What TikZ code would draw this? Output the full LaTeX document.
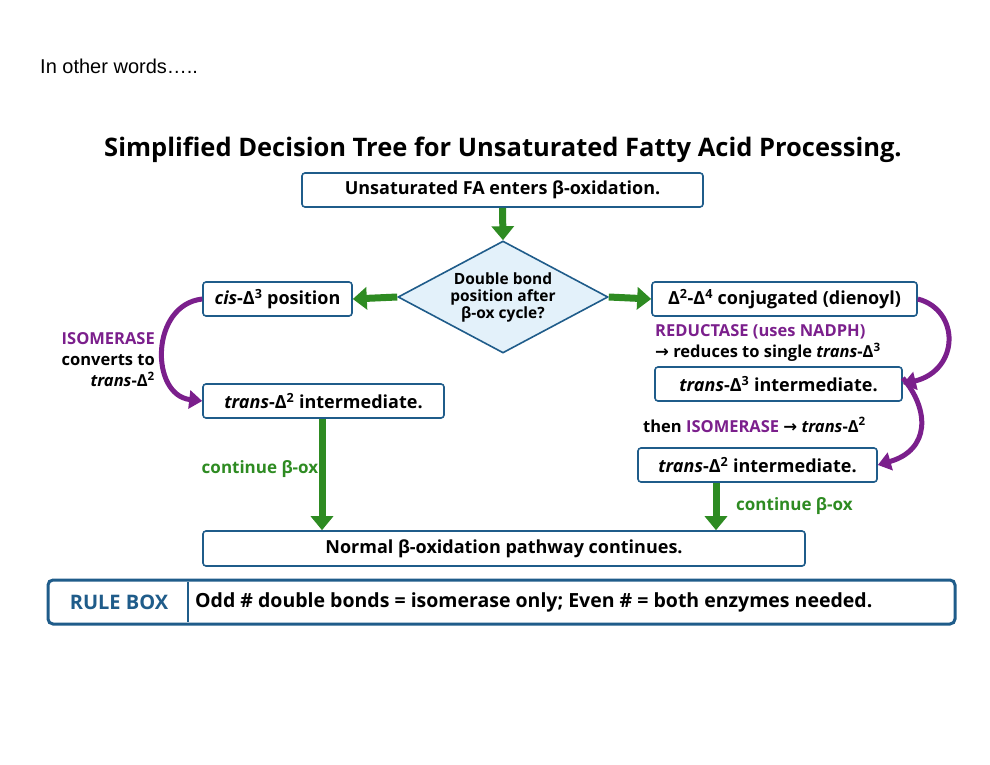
\documentclass[tikz,border=0pt]{standalone}
\usepackage{fontspec}
\setmainfont{Open Sans}
\newfontfamily\arialfont{Liberation Sans}
\newfontfamily\symfont{DejaVu Sans}
\usetikzlibrary{arrows.meta,shapes.geometric,positioning}
\definecolor{boxblue}{HTML}{1F5C8A}
\definecolor{arrgreen}{HTML}{2E8B22}
\definecolor{enzpurple}{HTML}{7B1F8C}
\definecolor{diafill}{HTML}{E3F1FA}
\tikzset{
  stepbox/.style={draw=boxblue, line width=1.6pt, rounded corners=3pt, fill=white,
    inner sep=0pt, font=\fontsize{18}{21}\selectfont\bfseries},
  greenarr/.style={draw=arrgreen, line width=7pt, -{Triangle[length=14pt,width=22pt]}},
  purparr/.style={draw=enzpurple, line width=5pt, -{Triangle[length=13pt,width=18pt]}},
}
\newcommand{\trans}{\textit{trans}}
\newcommand{\D}[1]{Δ\textsuperscript{#1}}
\newcommand{\ra}{{\symfont\bfseries →}}
\begin{document}
\begin{tikzpicture}[x=1pt,y=-1pt]
  \useasboundingbox (0,0) rectangle (990,765);
  %%%%% TEXT %%%%%
  \node[anchor=west, inner sep=0pt, font=\arialfont\fontsize{20}{24}\selectfont] (intro) at (40,66) {In other words…..};
  \node[font=\fontsize{25.5}{30}\selectfont\bfseries] (title) at (503,150) {Simplified Decision Tree for Unsaturated Fatty Acid Processing.};

  %%%%% BOXES %%%%%
  \node[stepbox, minimum width=401pt, minimum height=34pt] (enter) at (502.5,190) {Unsaturated FA enters β-oxidation.};
  \node[draw=boxblue, line width=1.6pt, fill=diafill, diamond, aspect=1.9, inner sep=0pt,
    minimum width=210pt, minimum height=112pt, align=center,
    font=\fontsize{15.5}{17}\selectfont\bfseries] (dec) at (503,297) {Double bond\\position after\\β-ox cycle?};
  \node[stepbox, minimum width=149pt, minimum height=34pt] (cis) at (277.5,299) {\textit{cis}-\D{3} position};
  \node[stepbox, minimum width=265pt, minimum height=34pt] (dien) at (784.5,299) {\D{2}-\D{4} conjugated (dienoyl)};
  \node[stepbox, minimum width=241pt, minimum height=34pt] (transL) at (323.5,401) {\trans-\D{2} intermediate.};
  \node[stepbox, minimum width=247pt, minimum height=34pt] (transT) at (778.5,384) {\trans-\D{3} intermediate.};
  \node[stepbox, minimum width=239pt, minimum height=34pt] (transR) at (757.5,465) {\trans-\D{2} intermediate.};
  \node[stepbox, minimum width=602pt, minimum height=35pt] (normal) at (504,548.5) {Normal β-oxidation pathway continues.};

  %%%%% ARROWS %%%%%
  \draw[greenarr] (enter.south) -- (dec.north);
  \draw[greenarr] (dec.west) -- (cis.east);
  \draw[greenarr] (dec.east) -- (dien.west);
  \draw[greenarr] (transL.south -| 322,0) -- (normal.north -| 322,0);
  \draw[greenarr] (transR.south -| 716,0) -- (normal.north -| 716,0);
  \draw[purparr] (cis.west) .. controls (150,305) and (150,395) .. (transL.west);
  \draw[purparr] (dien.east) .. controls (960,310) and (960,370) .. (transT.east);
  \draw[purparr] ([yshift=6pt]transT.east) .. controls (930,410) and (930,450) .. (transR.east);

  %%%%% LABELS %%%%%
  \node[align=right, anchor=east, inner sep=0pt, font=\fontsize{16.5}{21}\selectfont\bfseries] (isoL) at (155,360)
    {\textcolor{enzpurple}{ISOMERASE}\\converts to\\\trans-\D{2}};
  \node[anchor=west, inner sep=0pt, font=\fontsize{16.5}{19}\selectfont\bfseries, text=enzpurple] (red) at (655,332) {REDUCTASE (uses NADPH)};
  \node[anchor=west, inner sep=0pt, font=\fontsize{16.5}{19}\selectfont\bfseries] (redu) at (655,352) {\ra{} reduces to single \trans-\D{3}};
  \node[anchor=west, inner sep=0pt, font=\fontsize{16.5}{19}\selectfont\bfseries] (isoR) at (643,425) {then \textcolor{enzpurple}{ISOMERASE} \ra{} \trans-\D{2}};
  \node[font=\fontsize{17}{20}\selectfont\bfseries, text=arrgreen] (contL) at (260,469) {continue β-ox};
  \node[anchor=west, inner sep=0pt, font=\fontsize{17}{20}\selectfont\bfseries, text=arrgreen] (contR) at (736,506) {continue β-ox};

  %%%%% RULE BOX %%%%%
  \draw[boxblue, line width=3pt, rounded corners=5pt, fill=white] (48,580) rectangle (955,624);
  \draw[boxblue, line width=2pt] (188,582) -- (188,622);
  \node[font=\fontsize{20}{24}\selectfont\bfseries, text=boxblue] (rule) at (119,602) {RULE BOX};
  \node[anchor=west, inner sep=0pt, font=\fontsize{19.5}{23}\selectfont\bfseries] (ruletext) at (195,602) {Odd \# double bonds = isomerase only; Even \# = both enzymes needed.};
\end{tikzpicture}
\end{document}
